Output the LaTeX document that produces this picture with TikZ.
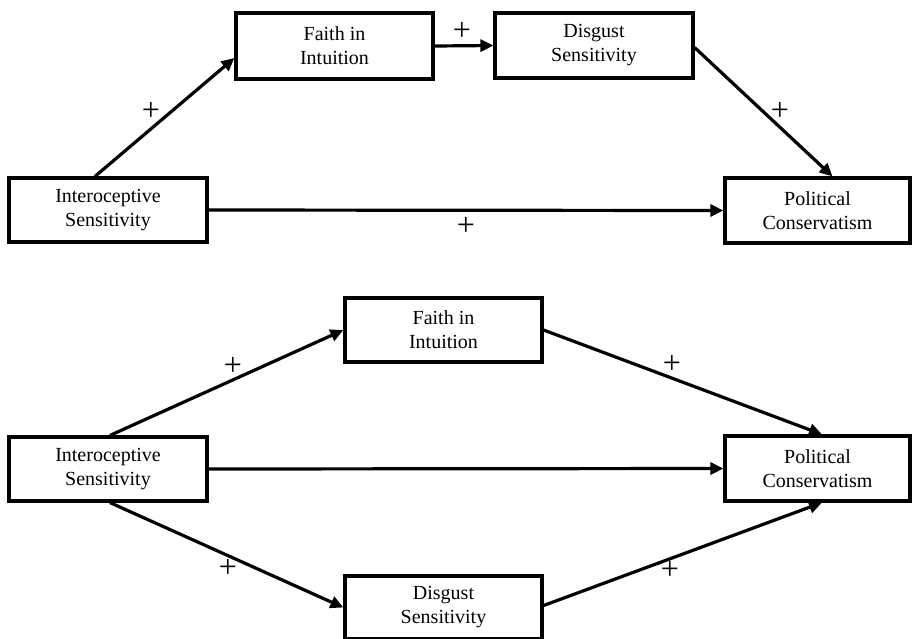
\documentclass[tikz,border=0pt]{standalone}
\usepackage{fontspec}
\setmainfont{Liberation Serif}
\usetikzlibrary{arrows.meta}
\tikzset{
  box/.style={draw=black, line width=3.2pt, fill=white, align=center, inner sep=0pt,
    font=\fontsize{20}{24}\selectfont},
  arr/.style={line width=3.2pt, -{Triangle[length=13pt,width=12pt]}},
  plus/.style={inner sep=0pt, font=\fontsize{32}{34}\selectfont}
}
\begin{document}
\begin{tikzpicture}[x=1pt,y=-1pt]
\useasboundingbox (0,0) rectangle (913,638);
% top diagram
\node[box, minimum width=197pt, minimum height=66pt] (fi1) at (334.5,46) {Faith in\\Intuition};
\node[box, minimum width=198pt, minimum height=65pt] (ds1) at (594,45.5) {Disgust\\Sensitivity};
\node[box, minimum width=198pt, minimum height=64pt] (is1) at (108,210) {Interoceptive\\Sensitivity};
\node[box, minimum width=185pt, minimum height=65pt] (pc1) at (817.5,210.5) {Political\\Conservatism};
\draw[arr] ([xshift=-13pt]is1.north) -- ([yshift=-12pt]fi1.west);
\draw[arr] (fi1.east) -- (ds1.west);
\draw[arr] ([yshift=-2pt]ds1.east) -- ([xshift=15pt]pc1.north);
\draw[arr] (is1.east) -- (pc1.west);
\node[plus] (p1) at (151,111) {+};
\node[plus] (p2) at (462,31) {+};
\node[plus] (p3) at (780,111) {+};
\node[plus] (p4) at (466,226) {+};
% bottom diagram
\node[box, minimum width=197pt, minimum height=64pt] (fi2) at (443.5,330) {Faith in\\Intuition};
\node[box, minimum width=198pt, minimum height=64pt] (is2) at (108,469) {Interoceptive\\Sensitivity};
\node[box, minimum width=185pt, minimum height=65pt] (pc2) at (817.5,468.5) {Political\\Conservatism};
\node[box, minimum width=197pt, minimum height=63pt] (ds2) at (443.5,607.5) {Disgust\\Sensitivity};
\draw[arr] ([xshift=2pt]is2.north) -- (fi2.west);
\draw[arr] (fi2.east) -- ([xshift=4.5pt]pc2.north);
\draw[arr] (is2.east) -- (pc2.west);
\draw[arr] ([xshift=2pt]is2.south) -- (ds2.west);
\draw[arr] ([yshift=2pt]ds2.east) -- ([xshift=4.5pt]pc2.south);
\node[plus] (p5) at (233,366) {+};
\node[plus] (p6) at (672,364) {+};
\node[plus] (p7) at (228,568) {+};
\node[plus] (p8) at (670,570) {+};
\end{tikzpicture}
\end{document}
